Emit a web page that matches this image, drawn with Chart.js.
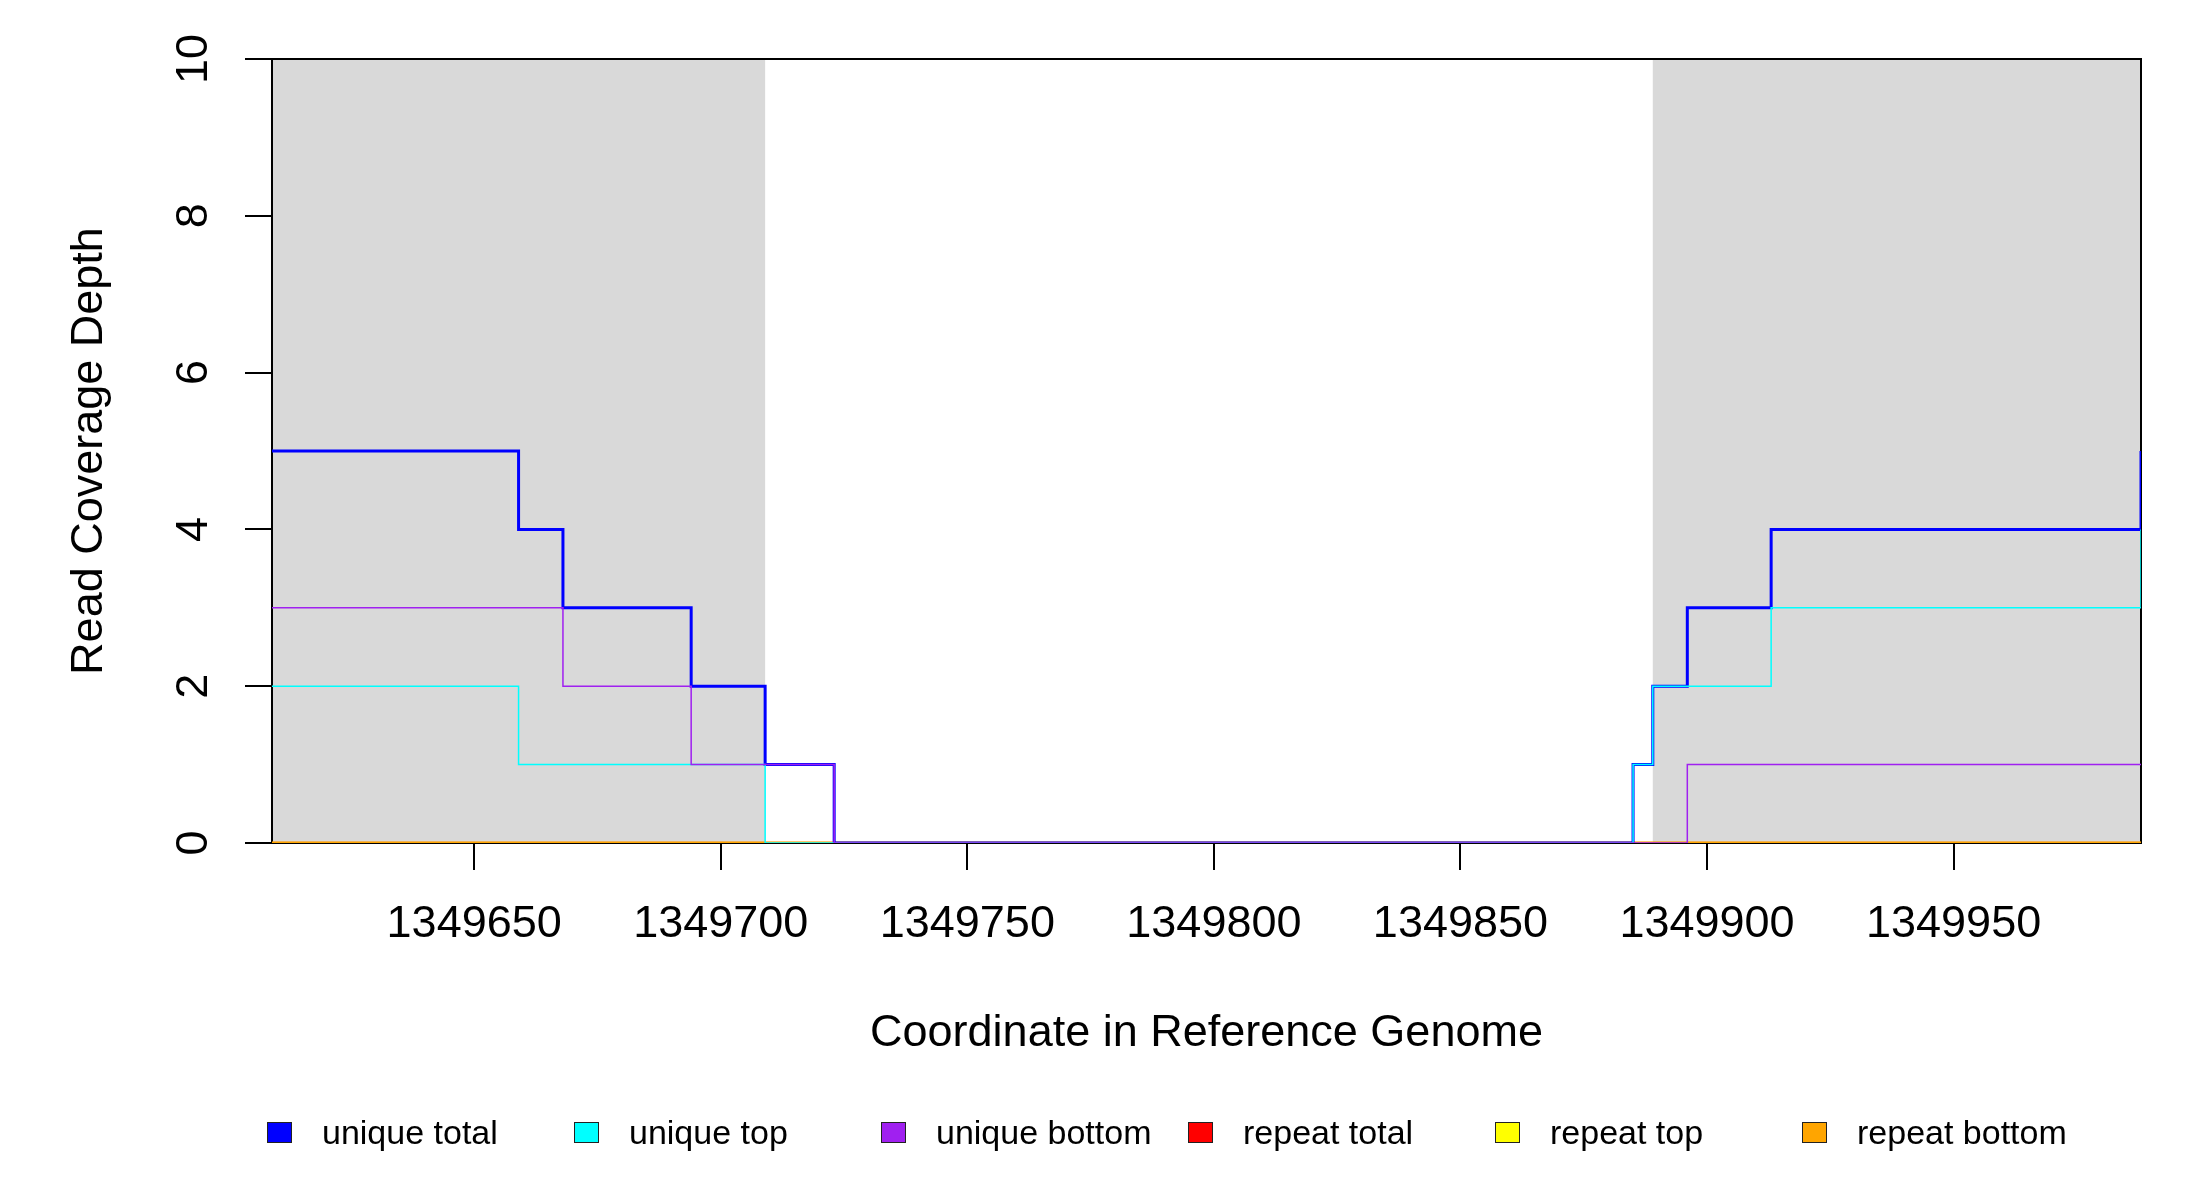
<!DOCTYPE html>
<html>
<head>
<meta charset="utf-8">
<title>Read Coverage Depth</title>
<script src="https://cdn.jsdelivr.net/npm/chart.js@4.4.1/dist/chart.umd.min.js"></script>
<style>
  body { margin: 0; background: #fff; }
  #wrap { position: relative; width: 2200px; height: 1200px; }
  #legend { position: absolute; left: 0; top: 0; width: 2200px; height: 1200px; pointer-events: none;
            font-family: "Liberation Sans", Arial, sans-serif; font-size: 34px; color: #000; }
  .item { position: absolute; top: 1111px; height: 42px; display: flex; align-items: center; white-space: nowrap; }
  .swatch { width: 23px; height: 19px; border: 1.5px solid #222; margin-right: 30px; }
</style>
</head>
<body>
<div id="wrap">
  <canvas id="coverage" width="2200" height="1200"></canvas>
  <div id="legend"></div>
</div>
<script>
// axis range and ticks
const xMin = 1349609;
const xMax = 1349988;
const xTicks = [1349650, 1349700, 1349750, 1349800, 1349850, 1349900, 1349950];

// shaded regions
const shadeStart = [1349609, 1349889];
const shadeEnd = [1349709, 1349988];

// step positions and depths for each series
const uniqueTotalX = [1349609, 1349659, 1349668, 1349694, 1349709, 1349723, 1349885, 1349889, 1349896, 1349913, 1349988];
const uniqueTotalY = [5, 4, 3, 2, 1, 0, 1, 2, 3, 4, 5];
const uniqueTopX = [1349609, 1349659, 1349709, 1349885, 1349889, 1349913, 1349988];
const uniqueTopY = [2, 1, 0, 1, 2, 3, 4];
const uniqueBottomX = [1349609, 1349668, 1349694, 1349723, 1349896, 1349988];
const uniqueBottomY = [3, 2, 1, 0, 1, 1];
const repeatTotalX = [1349609, 1349988];
const repeatTotalY = [0, 0];
const repeatTopX = [1349609, 1349988];
const repeatTopY = [0, 0];
const repeatBottomX = [1349609, 1349988];
const repeatBottomY = [0, 0];

const seriesLabels = ['unique total', 'unique top', 'unique bottom', 'repeat total', 'repeat top', 'repeat bottom'];
const seriesColors = ['#0000ff', '#00ffff', '#a020f0', '#ff0000', '#ffff00', '#ffa500'];

const FONT = '"Liberation Sans", Arial, sans-serif';

function toPoints(xs, ys) {
    return xs.map((x, i) => ({ x: x, y: ys[i] }));
}

function makeSet(i, xs, ys, width, order) {
    return {
        label: seriesLabels[i],
        data: toPoints(xs, ys),
        borderColor: seriesColors[i],
        backgroundColor: seriesColors[i],
        borderWidth: width,
        stepped: 'before',
        pointRadius: 0,
        fill: false,
        order: order
    };
}

// shading, box and rotated texts
const decor = {
    id: 'decor',
    beforeDatasetsDraw(chart) {
        const { ctx, chartArea: a, scales: { x } } = chart;
        ctx.save();
        ctx.fillStyle = '#d9d9d9';
        shadeStart.forEach((s, i) => {
            const x0 = x.getPixelForValue(s);
            const x1 = x.getPixelForValue(shadeEnd[i]);
            ctx.fillRect(x0, a.top, x1 - x0, a.bottom - a.top);
        });
        ctx.strokeStyle = '#000';
        ctx.lineWidth = 2;
        ctx.strokeRect(a.left, a.top, a.right - a.left, a.bottom - a.top);
        ctx.restore();
    },
    afterDraw(chart) {
        const { ctx, chartArea: a, scales: { y } } = chart;
        ctx.save();
        ctx.fillStyle = '#000';
        ctx.font = '45px ' + FONT;
        ctx.textAlign = 'center';
        ctx.textBaseline = 'alphabetic';
        y.ticks.forEach(t => {
            ctx.save();
            ctx.translate(a.left - 65, y.getPixelForValue(t.value));
            ctx.rotate(-Math.PI / 2);
            ctx.fillText(String(t.value), 0, 0);
            ctx.restore();
        });
        // y title
        ctx.save();
        ctx.translate(102, (a.top + a.bottom) / 2);
        ctx.rotate(-Math.PI / 2);
        ctx.fillText('Read Coverage Depth', 0, 0);
        ctx.restore();
        // x title
        ctx.fillText('Coordinate in Reference Genome', (a.left + a.right) / 2, 1046);
        ctx.restore();
    }
};

new Chart(document.getElementById('coverage'), {
    type: 'line',
    data: {
        datasets: [
            makeSet(0, uniqueTotalX, uniqueTotalY, 3, 2),
            makeSet(1, uniqueTopX, uniqueTopY, 1.5, 1),
            makeSet(2, uniqueBottomX, uniqueBottomY, 1.5, 0),
            makeSet(3, repeatTotalX, repeatTotalY, 2.5, 5),
            makeSet(4, repeatTopX, repeatTopY, 2.5, 4),
            makeSet(5, repeatBottomX, repeatBottomY, 2.5, 3)
        ]
    },
    options: {
        responsive: false,
        animation: false,
        layout: { padding: { top: 59, right: 59, bottom: 0, left: 0 } },
        plugins: { legend: { display: false }, tooltip: { enabled: false } },
        scales: {
            x: {
                type: 'linear',
                min: xMin,
                max: xMax,
                afterBuildTicks: scale => { scale.ticks = xTicks.map(v => ({ value: v })); },
                afterFit: scale => { scale.height = 357; },
                grid: { drawOnChartArea: false, drawTicks: true, tickLength: 27, color: '#000', lineWidth: 2 },
                border: { display: false },
                ticks: {
                    color: '#000',
                    padding: 28,
                    maxRotation: 0,
                    autoSkip: false,
                    font: { family: FONT, size: 45 },
                    callback: v => String(v)
                }
            },
            y: {
                min: 0,
                max: 10,
                afterFit: scale => { scale.width = 272; },
                grid: { drawOnChartArea: false, drawTicks: true, tickLength: 27, color: '#000', lineWidth: 2 },
                border: { display: false },
                ticks: { stepSize: 2, display: false }
            }
        }
    },
    plugins: [decor]
});

// legend row with even spacing
const legend = document.getElementById('legend');
seriesLabels.forEach((name, i) => {
    const item = document.createElement('div');
    item.className = 'item';
    item.style.left = (267 + i * 307) + 'px';
    const sw = document.createElement('span');
    sw.className = 'swatch';
    sw.style.background = seriesColors[i];
    const txt = document.createElement('span');
    txt.textContent = name;
    item.appendChild(sw);
    item.appendChild(txt);
    legend.appendChild(item);
});
</script>
</body>
</html>
